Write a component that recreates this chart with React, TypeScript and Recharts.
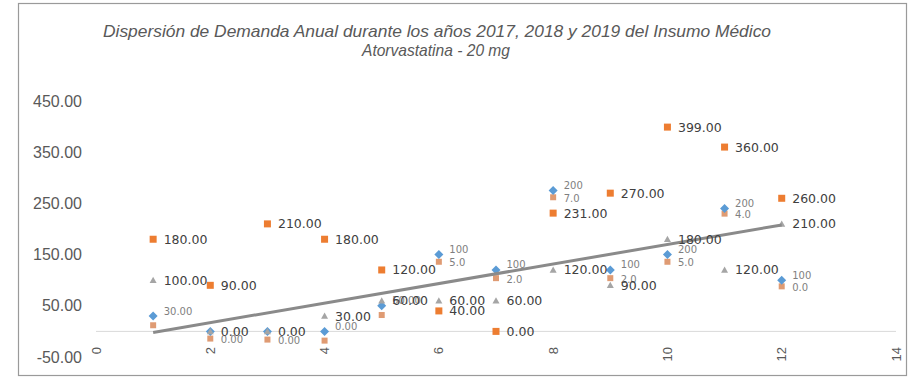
import React from "react";
import {
  ScatterChart,
  Scatter,
  XAxis,
  YAxis,
  ReferenceLine,
  LabelList,
} from "recharts";

// Months (x) 1..12
const meses = [1, 2, 3, 4, 5, 6, 7, 8, 9, 10, 11, 12];

// Blue diamonds
const serieAzul = [30, 0, 0, 0, 50, 150, 120, 275, 120, 150, 240, 100];
const etiquetasAzul = ["30.00", "", "", "0.00", "50.00", "100", "100", "200", "100", "200", "200", "100"];

// Small orange markers just below the blue ones
const serieNaranjaB = [12, -14, -16, -18, 32, 136, 104, 262, 104, 136, 230, 88];
const etiquetasNaranjaB = ["", "0.00", "0.00", "", "", "5.0", "2.0", "7.0", "2.0", "5.0", "4.0", "0.0"];

// Orange squares
const serieNaranja = [180, 90, 210, 180, 120, 40, 0, 231, 270, 399, 360, 260];
const etiquetasNaranja = ["180.00", "90.00", "210.00", "180.00", "120.00", "40.00", "0.00", "231.00", "270.00", "399.00", "360.00", "260.00"];

// Gray triangles
const serieGris = [100, 0, 0, 30, 60, 60, 60, 120, 90, 180, 120, 210];
const etiquetasGris = ["100.00", "0.00", "0.00", "30.00", "60.00", "60.00", "60.00", "120.00", "90.00", "180.00", "120.00", "210.00"];

// Linear trend line endpoints
const tendenciaX = [1, 12];
const tendenciaY = [-2, 208];

const xTicks = [0, 2, 4, 6, 8, 10, 12, 14];
const yTicks = [-50, 50, 150, 250, 350, 450];

const build = (vals: number[], labels: string[]) =>
  meses.map((m, i) => ({ x: m, y: vals[i], label: labels[i] }));

const dataAzul = build(serieAzul, etiquetasAzul);
const dataNaranjaB = build(serieNaranjaB, etiquetasNaranjaB);
const dataNaranja = build(serieNaranja, etiquetasNaranja);
const dataGris = build(serieGris, etiquetasGris);
const dataTendencia = tendenciaX.map((x, i) => ({ x, y: tendenciaY[i] }));

const AZUL = "#5B9BD5";
const NARANJA = "#ED7D31";
const GRIS = "#A5A5A5";

const Diamond = (props: any) => {
  const { cx, cy } = props;
  const s = 4.5;
  return (
    <path
      d={`M${cx},${cy - s}L${cx + s},${cy}L${cx},${cy + s}L${cx - s},${cy}Z`}
      fill={AZUL}
    />
  );
};
const SmallSquare = (props: any) => {
  const { cx, cy } = props;
  const s = 3;
  return <rect x={cx - s} y={cy - s} width={2 * s} height={2 * s} fill="#D9895A" opacity={0.85} />;
};
const Square = (props: any) => {
  const { cx, cy } = props;
  const s = 3.5;
  return <rect x={cx - s} y={cy - s} width={2 * s} height={2 * s} fill={NARANJA} />;
};
const Triangle = (props: any) => {
  const { cx, cy } = props;
  const s = 3.5;
  return (
    <path
      d={`M${cx},${cy - s}L${cx + s},${cy + s * 0.8}L${cx - s},${cy + s * 0.8}Z`}
      fill={GRIS}
    />
  );
};
const NoShape = () => <g />;

const XTick = (props: any) => {
  const { x, y, payload } = props;
  const ty = y - 18;
  return (
    <text
      x={x}
      y={ty}
      transform={`rotate(-90, ${x}, ${ty})`}
      textAnchor="end"
      dominantBaseline="central"
      fill="#595959"
      fontSize={13}
      fontFamily="Liberation Sans, Arial, sans-serif"
    >
      {payload.value}
    </text>
  );
};

const makeLabel = (style: any, dy: number) => (props: any) => {
  const { x, y, width, height, value } = props;
  if (!value) return null;
  return (
    <text
      x={x + width + 6}
      y={y + height / 2 + dy}
      dominantBaseline="central"
      textAnchor="start"
      {...style}
    >
      {value}
    </text>
  );
};

const darkLabel = {
  fill: "#404040",
  fontSize: 12.5,
  fontFamily: "DejaVu Sans, sans-serif",
};
const lightLabel = {
  fill: "#7f7f7f",
  fontSize: 10,
  fontFamily: "DejaVu Sans, sans-serif",
};

export default function App() {
  return (
    <div
      style={{
        position: "absolute",
        left: 0,
        top: 0,
        width: 917,
        height: 379,
        background: "#ffffff",
      }}
    >
      <ScatterChart
        width={917}
        height={379}
        margin={{ top: 101, right: 21, bottom: 0, left: 0 }}
      >
        <XAxis
          type="number"
          dataKey="x"
          domain={[0, 14]}
          ticks={xTicks}
          axisLine={false}
          tickLine={false}
          height={22}
          tick={<XTick />}
          interval={0}
        />
        <YAxis
          type="number"
          dataKey="y"
          domain={[-50, 450]}
          ticks={yTicks}
          width={96}
          axisLine={false}
          tickLine={false}
          tickMargin={8}
          interval={0}
          tickFormatter={(v: number) => v.toFixed(2)}
          tick={{ fill: "#595959", fontSize: 16, fontFamily: "Liberation Sans, Arial, sans-serif" }}
        />
        <ReferenceLine y={0} stroke="#d9d9d9" strokeWidth={1} />
        <Scatter data={dataNaranjaB} shape={<SmallSquare />} isAnimationActive={false}>
          <LabelList dataKey="label" content={makeLabel(lightLabel, 1)} />
        </Scatter>
        <Scatter data={dataAzul} shape={<Diamond />} isAnimationActive={false}>
          <LabelList dataKey="label" content={makeLabel(lightLabel, -5)} />
        </Scatter>
        <Scatter data={dataGris} shape={<Triangle />} isAnimationActive={false}>
          <LabelList dataKey="label" content={makeLabel(darkLabel, 0)} />
        </Scatter>
        <Scatter data={dataNaranja} shape={<Square />} isAnimationActive={false}>
          <LabelList dataKey="label" content={makeLabel(darkLabel, 0)} />
        </Scatter>
        <Scatter
          data={dataTendencia}
          shape={<NoShape />}
          line={{ stroke: "#8a8a8a", strokeWidth: 3 }}
          isAnimationActive={false}
        />
      </ScatterChart>
      <svg
        width={917}
        height={379}
        style={{ position: "absolute", left: 0, top: 0, pointerEvents: "none" }}
      >
        <rect x={18.5} y={3.5} width={888} height={372} fill="none" stroke="#9a9a9a" strokeWidth={1.2} />
        <text
          x={437}
          y={37}
          textAnchor="middle"
          fontSize={17}
          fontStyle="italic"
          fill="#595959"
          fontFamily="Liberation Sans, Arial, sans-serif"
          textLength={668}
          lengthAdjust="spacingAndGlyphs"
        >
          Dispersión de Demanda Anual durante los años 2017, 2018 y 2019 del Insumo Médico
        </text>
        <text
          x={436}
          y={56}
          textAnchor="middle"
          fontSize={17}
          fontStyle="italic"
          fill="#595959"
          fontFamily="Liberation Sans, Arial, sans-serif"
          textLength={148}
          lengthAdjust="spacingAndGlyphs"
        >
          Atorvastatina - 20 mg
        </text>
      </svg>
    </div>
  );
}
